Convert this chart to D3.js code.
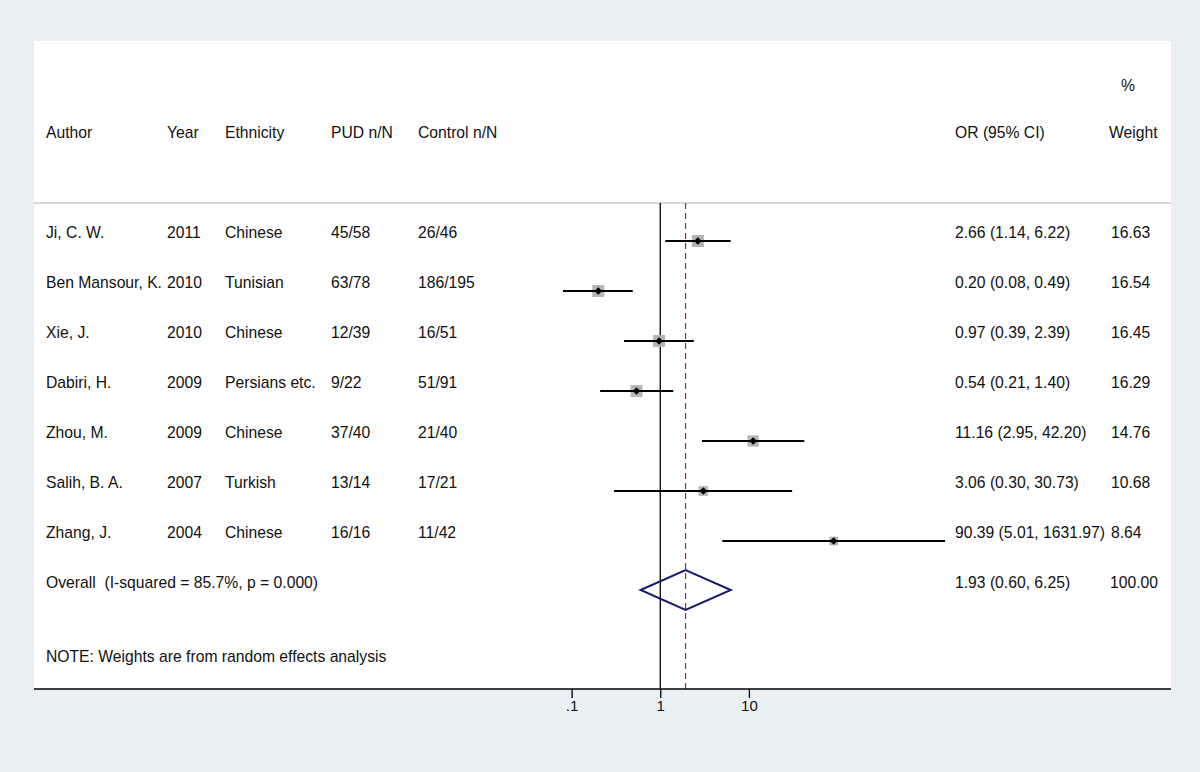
<!DOCTYPE html>
<html>
<head>
<meta charset="utf-8">
<script src="https://cdn.jsdelivr.net/npm/d3@7"></script>
<style>
  html, body { margin: 0; padding: 0; background: #e8f0f3; }
  svg { display: block; font-family: "Liberation Sans", Arial, sans-serif; }
  svg text { white-space: pre; }
</style>
</head>
<body>
<svg id="chart" width="1200" height="772"></svg>
<script>
// study data
const authors = ["Ji, C. W.", "Ben Mansour, K.", "Xie, J.", "Dabiri, H.", "Zhou, M.", "Salih, B. A.", "Zhang, J."];
const years = ["2011", "2010", "2010", "2009", "2009", "2007", "2004"];
const ethnicities = ["Chinese", "Tunisian", "Chinese", "Persians etc.", "Chinese", "Turkish", "Chinese"];
const pudCounts = ["45/58", "63/78", "12/39", "9/22", "37/40", "13/14", "16/16"];
const controlCounts = ["26/46", "186/195", "16/51", "51/91", "21/40", "17/21", "11/42"];
const oddsRatios = [2.66, 0.20, 0.97, 0.54, 11.16, 3.06, 90.39];
const ciLow = [1.14, 0.08, 0.39, 0.21, 2.95, 0.30, 5.01];
const ciHigh = [6.22, 0.49, 2.39, 1.40, 42.20, 30.73, 1631.97];
const weights = [16.63, 16.54, 16.45, 16.29, 14.76, 10.68, 8.64];

// pooled estimate
const overallOR = 1.93, overallLow = 0.60, overallHigh = 6.25, overallWeight = 100.00;
const overallLabel = "Overall  (I-squared = 85.7%, p = 0.000)";
const note = "NOTE: Weights are from random effects analysis";

const tickValues = [0.1, 1, 10];
const tickLabels = [".1", "1", "10"];

const svg = d3.select("#chart");
const panel = { left: 34, right: 1171, top: 41, bottom: 689 };
const sepY = 203;

// white plot region
svg.append("rect")
  .attr("x", panel.left).attr("y", panel.top)
  .attr("width", panel.right - panel.left).attr("height", panel.bottom - panel.top)
  .attr("fill", "#fff");

// log scale for odds ratio
const x = d3.scaleLog().domain([0.1, 10]).range([571.6, 748.9]);

// row positions (index 7 = overall)
const y = d3.scaleLinear().domain([0, 1]).range([241, 291]);

const fmt = d => d.toFixed(2);
const fontSize = "15.7px";
const textY = i => y(i) - 9 + 5.5;

// columns
const cols = [
  { x: 46, head: "Author", vals: authors },
  { x: 167, head: "Year", vals: years },
  { x: 225, head: "Ethnicity", vals: ethnicities },
  { x: 331, head: "PUD n/N", vals: pudCounts },
  { x: 418, head: "Control n/N", vals: controlCounts },
  { x: 955, head: "OR (95% CI)", vals: oddsRatios.map((d, i) => `${fmt(d)} (${fmt(ciLow[i])}, ${fmt(ciHigh[i])})`) },
  { x: 1111, head: "Weight", vals: weights.map(fmt) }
];

const text = svg.append("g").attr("font-size", fontSize).attr("fill", "#111");

text.append("text").attr("x", 1128).attr("y", 91).attr("text-anchor", "middle").text("%");

cols.forEach(c => {
  text.append("text").attr("x", c.head === "Weight" ? 1109 : c.x).attr("y", 138).text(c.head);
  text.selectAll(null).data(c.vals).enter().append("text")
    .attr("x", c.x)
    .attr("y", (d, i) => textY(i))
    .text(d => d);
});

text.append("text").attr("x", 46).attr("y", textY(7)).text(overallLabel);
text.append("text").attr("x", 955).attr("y", textY(7))
  .text(`${fmt(overallOR)} (${fmt(overallLow)}, ${fmt(overallHigh)})`);
text.append("text").attr("x", 1110).attr("y", textY(7)).text(fmt(overallWeight));
text.append("text").attr("x", 46).attr("y", 662).text(note);

// header separator
svg.append("line")
  .attr("x1", panel.left).attr("x2", panel.right)
  .attr("y1", sepY).attr("y2", sepY)
  .attr("stroke", "#cdcdcd").attr("stroke-width", 1.5);

// null line at OR = 1
svg.append("line")
  .attr("x1", x(1)).attr("x2", x(1))
  .attr("y1", sepY).attr("y2", panel.bottom)
  .attr("stroke", "#000").attr("stroke-width", 1.3);

// pooled estimate dashed line
svg.append("line")
  .attr("x1", x(overallOR)).attr("x2", x(overallOR))
  .attr("y1", sepY).attr("y2", panel.bottom)
  .attr("stroke", "#9b2a2a").attr("stroke-width", 1.2)
  .attr("stroke-dasharray", "6,4");

const studies = oddsRatios.map((d, i) => ({ or: d, lo: ciLow[i], hi: ciHigh[i], w: weights[i], i }));

// weight boxes
svg.selectAll("rect.box").data(studies).enter().append("rect")
  .attr("class", "box")
  .attr("x", d => x(d.or) - Math.sqrt(d.w) * 1.47)
  .attr("y", d => y(d.i) - Math.sqrt(d.w) * 1.47)
  .attr("width", d => Math.sqrt(d.w) * 2.94)
  .attr("height", d => Math.sqrt(d.w) * 2.94)
  .attr("fill", "#b5b5b5");

// confidence intervals
svg.selectAll("line.ci").data(studies).enter().append("line")
  .attr("class", "ci")
  .attr("x1", d => x(d.lo)).attr("x2", d => x(d.hi))
  .attr("y1", d => y(d.i)).attr("y2", d => y(d.i))
  .attr("stroke", "#000").attr("stroke-width", 2);

// point estimates
svg.selectAll("path.pt").data(studies).enter().append("path")
  .attr("class", "pt")
  .attr("d", d => {
    const cx = x(d.or), cy = y(d.i), r = 3.8;
    return `M${cx - r},${cy}L${cx},${cy - r}L${cx + r},${cy}L${cx},${cy + r}Z`;
  })
  .attr("fill", "#000");

// overall diamond
const dy = y(7) - 1;
svg.append("path")
  .attr("d", `M${x(overallLow)},${dy}L${x(overallOR)},${dy - 20}L${x(overallHigh)},${dy}L${x(overallOR)},${dy + 20}Z`)
  .attr("fill", "none").attr("stroke", "#1a1a6e").attr("stroke-width", 2);

// x axis
const axis = svg.append("g")
  .attr("transform", `translate(0,${panel.bottom})`)
  .call(d3.axisBottom(x).tickValues(tickValues).tickFormat((d, i) => tickLabels[i]).tickSize(9).tickPadding(2).tickSizeOuter(0));
axis.select(".domain").remove();
axis.selectAll("text").attr("font-size", "15px").attr("fill", "#111").attr("font-family", "Liberation Sans, Arial, sans-serif");
axis.selectAll(".tick line").attr("stroke-width", 1.3);

svg.append("line")
  .attr("x1", panel.left).attr("x2", panel.right)
  .attr("y1", panel.bottom).attr("y2", panel.bottom)
  .attr("stroke", "#000").attr("stroke-width", 1.5);
</script>
</body>
</html>
